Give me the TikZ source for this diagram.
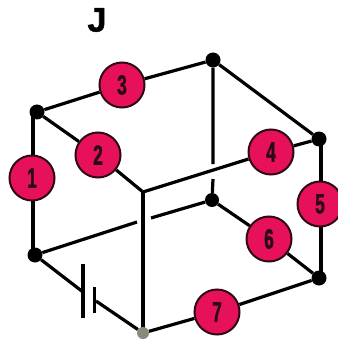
\documentclass[tikz,border=0pt]{standalone}
\usepackage{fontspec}
\setmainfont{Liberation Sans}[BoldFeatures={FakeBold=1.5}]
\usetikzlibrary{backgrounds}
\definecolor{discred}{HTML}{E6115A}
\definecolor{discedge}{HTML}{2E0812}
\definecolor{digit}{HTML}{2A0A14}
\definecolor{greyend}{HTML}{8A8A78}
\tikzset{
  wire/.style={line width=3.2pt,black},
  dot/.style={circle,fill=black,inner sep=0pt,minimum size=15pt},
  greydot/.style={circle,fill=greyend,inner sep=0pt,minimum size=12pt},
  disc/.style={circle,fill=discred,draw=discedge,line width=2pt,inner sep=0pt,minimum size=45pt,
    text=digit,font=\fontsize{28}{28}\selectfont\bfseries},
}
\newcommand{\dg}[1]{\scalebox{.62}[1]{#1}}
\begin{document}
\begin{tikzpicture}[x=1pt,y=-1pt]
\useasboundingbox (0,0) rectangle (337,339);
\node[font=\fontsize{34}{34}\selectfont\bfseries] (title) at (97,20) {J};
% vertices
\node[dot] (tl) at (37,112) {};
\node[dot] (top) at (213,60) {};
\node[dot] (rt) at (319,139) {};
\node[dot] (rb) at (319,278) {};
\node[dot] (lb) at (35,255) {};
\node[dot,minimum size=14pt] (back) at (212,200) {};
\node[greydot] (fb) at (143,333) {};
\coordinate (ft) at (143,192);
% discs
\node[disc] (n1) at (32,178) {\dg{1}};
\node[disc] (n2) at (98,155) {\dg{2}};
\node[disc] (n3) at (122,85) {\dg{3}};
\node[disc] (n4) at (271,152) {\dg{4}};
\node[disc] (n5) at (320,204) {\dg{5}};
\node[disc] (n6) at (269,239) {\dg{6}};
\node[disc] (n7) at (217,312) {\dg{7}};
% free ends
\coordinate (tlv) at (33,112);
\coordinate (lbv) at (33,255);
\coordinate (rtv) at (321,139);
\coordinate (rbv) at (321,278);
\coordinate (gapL) at (137,222);
\coordinate (gapR) at (151,218);
\coordinate (vgapT) at (213,164);
\coordinate (vgapB) at (213,179);
\coordinate (capA) at (83,292);
\coordinate (capB) at (96,301);
\coordinate (capAt) at (83,264);
\coordinate (capAb) at (83,318);
\coordinate (capBt) at (94.5,287);
\coordinate (capBb) at (94.5,313);
\begin{scope}[on background layer]
\draw[wire] (tlv) -- (lbv);
\draw[wire] (tl) -- (n2) (n2) -- (ft);
\draw[wire] (tl) -- (n3) (n3) -- (top);
\draw[wire] (top) -- (rt);
\draw[wire] (top) -- (vgapT) (vgapB) -- (back);
\draw[wire] (ft) -- (n4) (n4) -- (rt);
\draw[wire] (rtv) -- (rbv);
\draw[wire] (back) -- (n6) (n6) -- (rb);
\draw[wire] (fb) -- (n7) (n7) -- (rb);
\draw[wire,line cap=rect] (ft) -- (fb);
\draw[wire] (lb) -- (gapL) (gapR) -- (back);
\draw[wire] (lb) -- (capA) (capB) -- (fb);
\draw[line width=4pt] (capAt) -- (capAb);
\draw[line width=3.2pt] (capBt) -- (capBb);
\end{scope}
\end{tikzpicture}
\end{document}
